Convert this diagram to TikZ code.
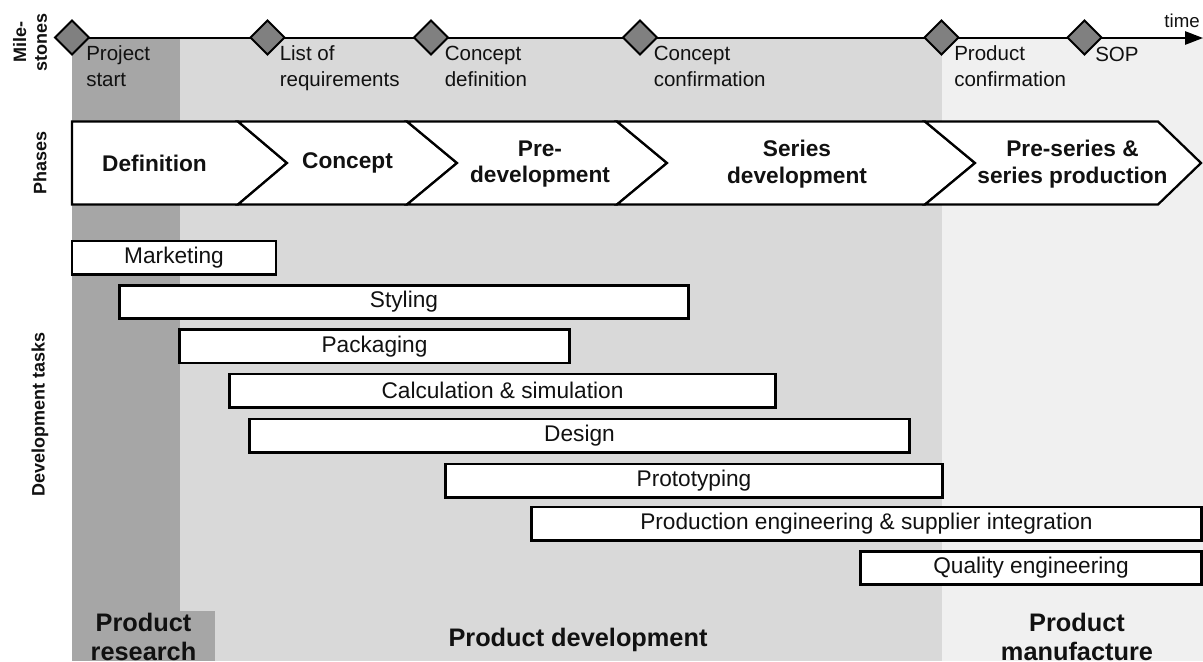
\documentclass[tikz,border=0pt]{standalone}
\usepackage{fontspec}
\setmainfont{Liberation Sans}
\usetikzlibrary{shapes.geometric,arrows.meta}

\definecolor{research}{HTML}{A6A6A6}
\definecolor{develop}{HTML}{D9D9D9}
\definecolor{manufacture}{HTML}{F0F0F0}
\definecolor{msfill}{HTML}{808080}
\definecolor{ink}{HTML}{111111}

\tikzset{
  % one unit = one pixel of the page, y grows downwards
  x=0.75pt, y=-0.75pt,
  milestone/.style={diamond, draw=black, fill=msfill, line width=1.4pt,
    minimum width=26pt, minimum height=26pt, inner sep=0pt},
  mslabel/.style={anchor=base west, align=left, inner sep=0pt, text=ink,
    font=\fontsize{15.4}{18.8}\selectfont},
  phase/.style={draw=black, fill=white, line width=1.7pt, line join=miter},
  phaselabel/.style={align=center, inner sep=0pt, text=ink,
    font=\fontsize{17}{20}\selectfont\bfseries},
  taskbar/.style={draw=black, fill=white, line width=2pt, inner sep=0pt,
    minimum height=25pt, text=ink, font=\fontsize{17}{20}\selectfont},
  rowlabel/.style={rotate=90, align=center, inner sep=0pt, text=ink,
    font=\fontsize{13.5}{15.5}\selectfont\bfseries},
  arealabel/.style={align=center, inner sep=0pt, text=ink,
    font=\fontsize{19}{21.5}\selectfont\bfseries},
}

\begin{document}
\begin{tikzpicture}
\useasboundingbox (0,0) rectangle (1203,661);

% stage backgrounds
\fill[develop] (180,38) rectangle (941.5,661);
\fill[manufacture] (941.5,38) rectangle (1203,661);
\fill[research] (72,38) rectangle (180,661);
\fill[research] (180,611) rectangle (215,661);

% time axis
\coordinate (tstart) at (72,38);
\coordinate (tend) at (1203,38);
\draw[line width=1.3pt, -{Triangle[length=13.5pt,width=10pt]}] (tstart) -- (tend);
\node[anchor=base east, inner sep=0pt, text=ink,
  font=\fontsize{14}{16}\selectfont] (timelbl) at (1200,27) {time};

% milestones
\node[milestone] (m1) at (72,37.5) {};
\node[milestone] (m2) at (267.5,37.5) {};
\node[milestone] (m3) at (431,37.5) {};
\node[milestone] (m4) at (640,37.5) {};
\node[milestone] (m5) at (941.5,37.5) {};
\node[milestone] (m6) at (1084.5,37.5) {};

% milestone names (anchored on the baseline of their last line)
\node[mslabel] (l1) at (86,86) {Project\\start};
\node[mslabel] (l2) at (279.5,86) {List of\\requirements};
\node[mslabel] (l3) at (444.5,86) {Concept\\definition};
\node[mslabel] (l4) at (653.5,86) {Concept\\confirmation};
\node[mslabel] (l5) at (954,86) {Product\\confirmation};
\node[mslabel] (l6) at (1095,61) {SOP};

% phases
\draw[phase] (72,121.5) -- (238,121.5) -- (287,163) -- (238,204.5) -- (72,204.5) -- cycle;
\draw[phase] (238,121.5) -- (407,121.5) -- (457,163) -- (407,204.5) -- (238,204.5) -- (287,163) -- cycle;
\draw[phase] (407,121.5) -- (617,121.5) -- (667,163) -- (617,204.5) -- (407,204.5) -- (457,163) -- cycle;
\draw[phase] (617,121.5) -- (925,121.5) -- (975,163) -- (925,204.5) -- (617,204.5) -- (667,163) -- cycle;
\draw[phase] (925,121.5) -- (1158,121.5) -- (1201,163) -- (1158,204.5) -- (925,204.5) -- (975,163) -- cycle;

\node[phaselabel] (p1) at (154.5,163) {Definition};
\node[phaselabel] (p2) at (347.5,163) {Concept};
\node[phaselabel] (p3) at (540,164) {Pre-\\development};
\node[phaselabel] (p4) at (797,164) {Series\\development};
\node[phaselabel] (p5) at (1072.5,164) {Pre-series \&\\series production};

% development tasks
\node[taskbar, minimum width=204*0.75pt] (t1) at (174,257.5) {Marketing};
\node[taskbar, minimum width=569.5*0.75pt] (t2) at (404,302) {Styling};
\node[taskbar, minimum width=390*0.75pt] (t3) at (374.5,346.3) {Packaging};
\node[taskbar, minimum width=546.5*0.75pt] (t4) at (502.5,390.5) {Calculation \& simulation};
\node[taskbar, minimum width=660*0.75pt] (t5) at (579.5,435.5) {Design};
\node[taskbar, minimum width=497*0.75pt] (t6) at (694,480.5) {Prototyping};
\node[taskbar, minimum width=670.5*0.75pt] (t7) at (866.5,523.7) {Production engineering \& supplier integration};
\node[taskbar, minimum width=340.5*0.75pt] (t8) at (1031,568) {Quality engineering};

% row titles
\node[rowlabel] (rmile) at (30,42) {Mile-\\stones};
\node[rowlabel] (rphase) at (40,163) {Phases};
\node[rowlabel] (rtask) at (40,414) {Development tasks};

% stage titles
\node[arealabel, anchor=north] (a1) at (143.5,613) {Product\\research};
\node[arealabel, anchor=north] (a2) at (578,628) {Product development};
\node[arealabel, anchor=north] (a3) at (1077,613) {Product\\manufacture};
\end{tikzpicture}
\end{document}
